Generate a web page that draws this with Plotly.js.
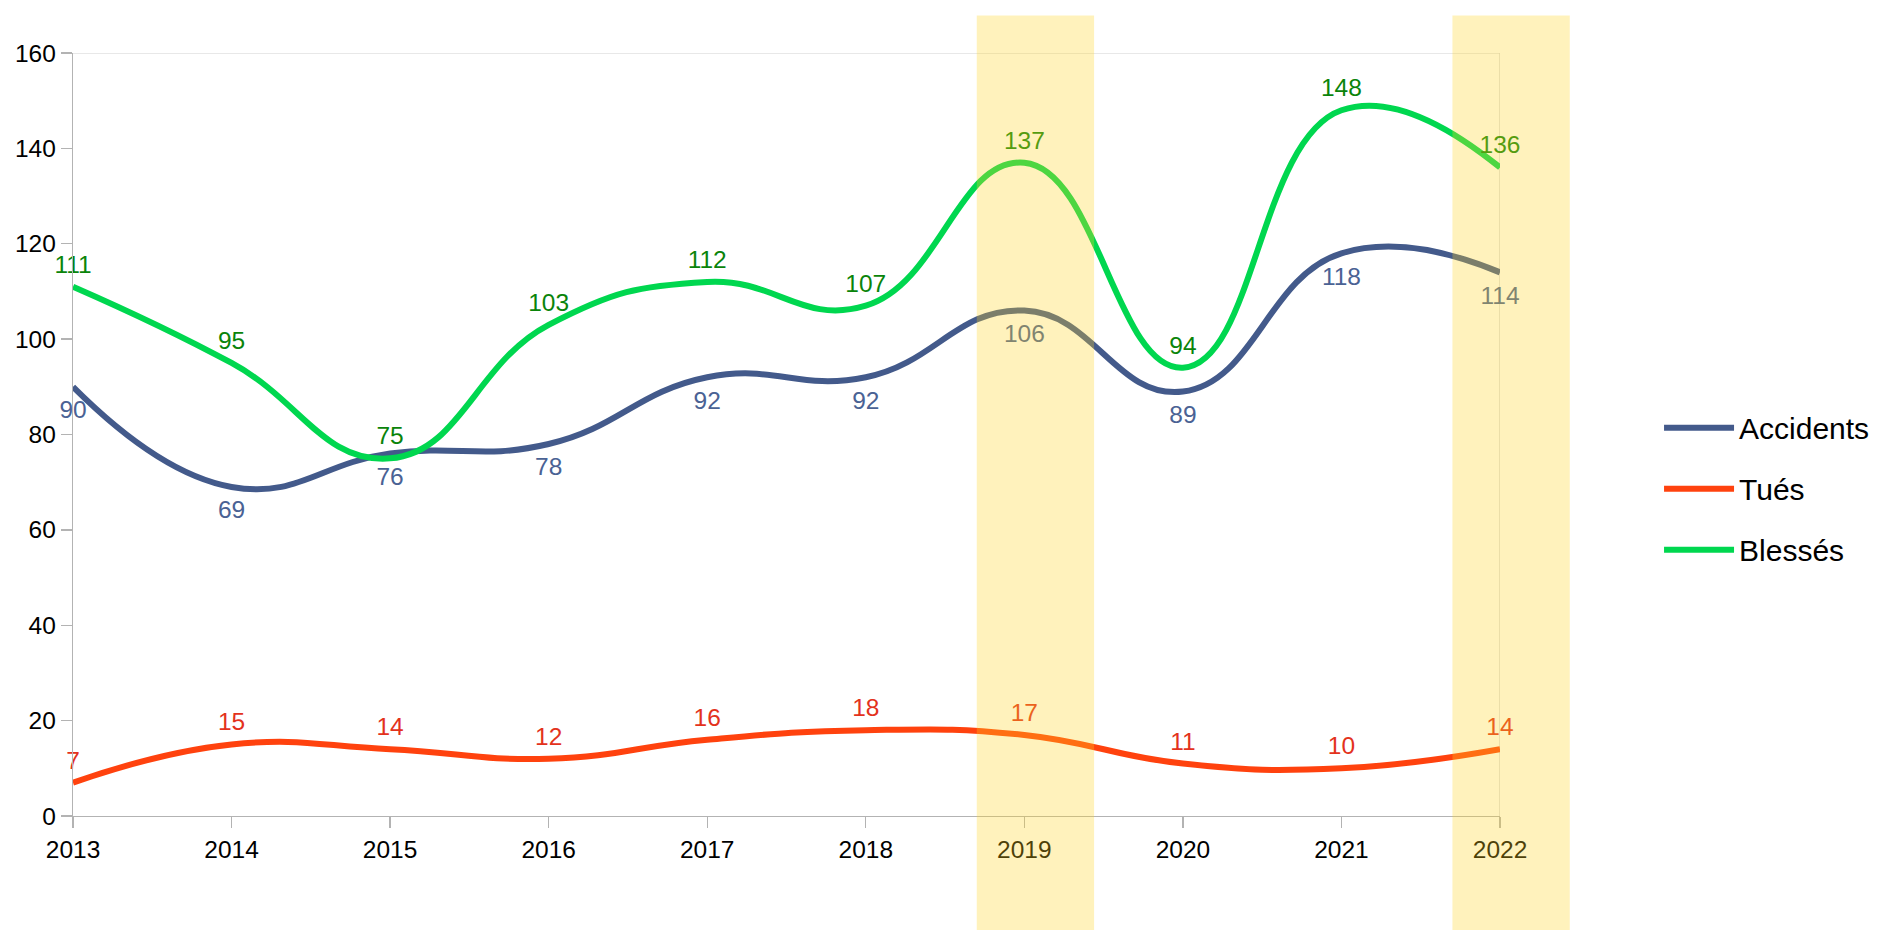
<!DOCTYPE html>
<html>
<head>
<meta charset="utf-8">
<script src="https://cdn.plot.ly/plotly-3.0.1.min.js"></script>
<style>
  html, body { margin: 0; padding: 0; background: #fff; }
  #chart { width: 1881px; height: 930px; }
</style>
</head>
<body>
<div id="chart"></div>
<script>
// ── Data ─────────────────────────────────────────────────────────────────────

const years     = [2013, 2014, 2015, 2016, 2017, 2018, 2019, 2020, 2021, 2022];
const accidents = [90, 69, 76, 78, 92, 92, 106, 89, 118, 114];
const tues      = [7, 15, 14, 12, 16, 18, 17, 11, 10, 14];
const blesses   = [111, 95, 75, 103, 112, 107, 137, 94, 148, 136];

const highlightYears = [2019, 2022];

// ── Style ────────────────────────────────────────────────────────────────────

const FONT     = 'Liberation Sans, Arial, sans-serif';
const X_RANGE  = [2013, 2022];
const Y_RANGE  = [0, 160];
const AXIS_CLR = '#b3b3b3';

const series = [
  { name: 'Accidents', y: accidents, color: '#435a8b', label: '#4a6294', pos: 'bottom center', gap: 19 },
  { name: 'Tués',      y: tues,      color: '#ff420e', label: '#e3321c', pos: 'top center',    gap: 11 },
  { name: 'Blessés',   y: blesses,   color: '#00d74f', label: '#0a840a', pos: 'top center',    gap: 11 },
];

// transparent markers only push the value labels away from the curve
const traces = series.map(s => ({
  x: years, y: s.y, name: s.name, legendgroup: s.name,
  type: 'scatter', mode: 'lines+markers+text',
  line:   { color: s.color, width: 6, shape: 'spline', smoothing: 1.3 },
  marker: { size: s.gap, color: 'rgba(0,0,0,0)', line: { width: 0 } },
  text: s.y.map(String), textposition: s.pos,
  textfont: { family: FONT, size: 24.5, color: s.label },
  cliponaxis: false, hoverinfo: 'skip',
}));

// year -> fraction of the x axis, so bands may run past the plot edge unclipped
const toDomain = yr => (yr - X_RANGE[0]) / (X_RANGE[1] - X_RANGE[0]);

const bands = highlightYears.map(yr => ({
  type: 'rect', xref: 'x domain', yref: 'paper',
  x0: toDomain(yr - 0.3), x1: toDomain(yr + 0.44), y0: -0.2, y1: 1.049,
  fillcolor: '#ffd320', opacity: 0.3, line: { width: 0 }, layer: 'above',
}));

const frame = [
  { type: 'line', xref: 'paper', yref: 'y', x0: 0, x1: 1, y0: 160, y1: 160,
    line: { color: '#e0e0e0', width: 1.3 }, layer: 'below' },
  { type: 'line', xref: 'x', yref: 'y', x0: 2022, x1: 2022, y0: 0, y1: 160,
    line: { color: '#d4d4d4', width: 1.3 }, layer: 'below' },
];

const axisBase = {
  showgrid: false, zeroline: false, showline: true,
  linecolor: AXIS_CLR, linewidth: 1.3,
  ticks: 'outside', ticklen: 11, tickwidth: 1.3, tickcolor: AXIS_CLR,
  tickfont: { family: FONT, size: 24.5, color: '#000' },
  fixedrange: true,
};

const layout = {
  width: 1881, height: 930, autosize: false,
  paper_bgcolor: '#fff', plot_bgcolor: '#fff',
  margin: { l: 73, r: 381, t: 53, b: 114, pad: 0 },
  font: { family: FONT, color: '#000' },
  xaxis: { ...axisBase, range: X_RANGE, tickvals: years, ticktext: years.map(String) },
  yaxis: { ...axisBase, range: Y_RANGE, tick0: 0, dtick: 20 },
  shapes: [...frame, ...bands],
  showlegend: true,
  legend: {
    xref: 'container', x: 0.882, xanchor: 'left',
    yref: 'paper', y: 0.429, yanchor: 'middle',
    font: { family: FONT, size: 30, color: '#000' },
    itemwidth: 70, tracegroupgap: 19, traceorder: 'grouped',
    bgcolor: 'rgba(0,0,0,0)', borderwidth: 0,
  },
  hovermode: false,
};

Plotly.newPlot('chart', traces, layout, { staticPlot: true, displayModeBar: false });
</script>
</body>
</html>
